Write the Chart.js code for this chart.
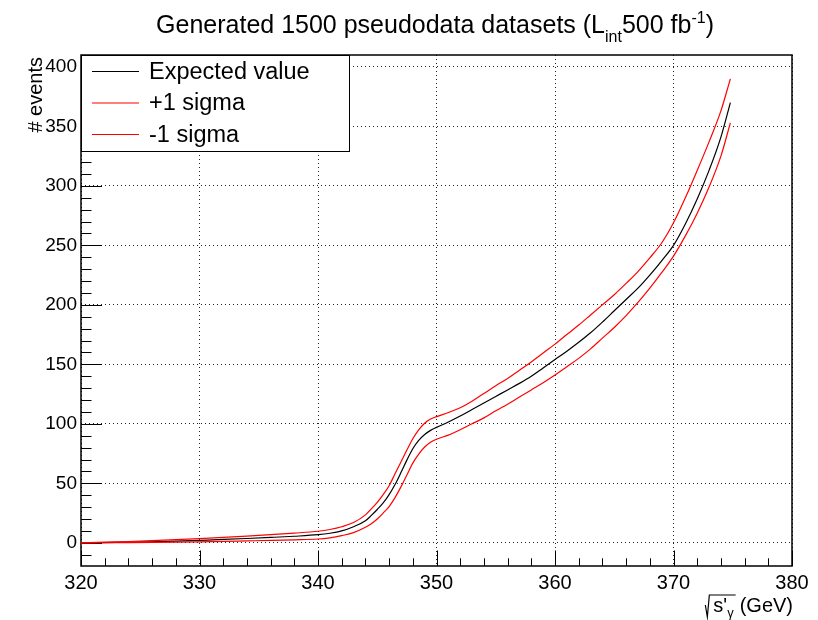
<!DOCTYPE html>
<html lang="en">
<head>
  <meta charset="UTF-8">
  <title>Generated 1500 pseudodata datasets</title>
  <script src="https://cdn.jsdelivr.net/npm/chart.js"></script>
  <style>
    body {
      margin: 0;
      background: #fff;
    }
    #wrap {
      width: 818px;
      height: 620px;
      position: relative;
    }
  </style>
</head>
<body>
  <div id="wrap"><canvas id="chart"></canvas></div>

  <script>
    // sqrt(s'_gamma) in GeV
    const energies = [320, 322, 324, 326, 328, 330, 332, 334, 336, 338, 340,
      341, 342, 343, 344, 344.5, 345, 345.5, 346, 346.5, 347, 347.5, 348, 348.5, 349, 349.5,
      350, 351, 352, 353, 354, 355, 356, 357, 358, 359, 360,
      361, 362, 363, 364, 365, 366, 367, 368, 369, 370, 371, 372, 373, 374, 374.8];

    const expected = [0, 0.2, 0.5, 0.9, 1.4, 2.1, 2.8, 3.6, 4.5, 5.5, 6.8,
      8, 10, 13.5, 18.5, 23, 28, 33.5, 40.5, 49, 59, 69.5, 79, 86, 91, 94.5,
      97, 101.5, 106.5, 112, 117.5, 123, 128.5, 134, 140, 147, 154,
      161, 168.5, 176.5, 185.5, 195, 204.5, 214, 225, 237, 250, 268, 289, 313, 341, 370];

    const plusSigma = [0, 0.5, 1.1, 1.8, 2.6, 3.5, 4.5, 5.6, 6.8, 8.1, 9.7,
      11.2, 13.5, 17, 23.5, 28.5, 34, 40.5, 48, 58, 68, 78, 87.5, 95, 100.5, 104,
      106, 109.5, 113.5, 119, 125.5, 132, 138, 145, 152, 159.5, 167,
      175, 183, 191.5, 200, 208.5, 218, 228, 239.5, 252, 269, 290, 313, 337, 363, 390];

    const minusSigma = [0, 0.05, 0.15, 0.3, 0.55, 0.85, 1.2, 1.6, 2, 2.5, 3.2,
      4.2, 6, 8.5, 13, 16, 20, 25, 30.5, 38, 47, 57, 67, 74.5, 80.5, 84.5,
      87, 90.5, 95, 100, 105, 111, 116.5, 122.5, 128.5, 134.5, 141,
      148, 155, 163, 172, 181, 191, 202, 214, 227, 241, 258, 277, 299, 325, 353];

    const seriesLabels = ['Expected value', '+1 sigma', '-1 sigma'];
    const seriesColors = ['#000000', '#ff0000', '#ff0000'];

    const xTicks = [320, 330, 340, 350, 360, 370, 380];
    const yTicks = [0, 50, 100, 150, 200, 250, 300, 350, 400];

    const FONT = '"Liberation Sans", Arial, Helvetica, sans-serif';

    function toPoints(ys) {
      return energies.map((x, i) => ({ x: x, y: ys[i] }));
    }

    // ROOT style frame with inward ticks
    const framePlugin = {
      id: 'frame',
      beforeDatasetsDraw(chart) {
        const { ctx, chartArea: a, scales } = chart;
        ctx.save();
        ctx.strokeStyle = '#000';
        ctx.lineWidth = 1;
        ctx.beginPath();
        // x ticks, every 2 GeV, major every 10
        for (let v = 320; v <= 380; v += 2) {
          const px = Math.round(scales.x.getPixelForValue(v)) + 0.5;
          const len = v % 10 === 0 ? 15.5 : 7.7;
          ctx.moveTo(px, a.bottom);
          ctx.lineTo(px, a.bottom - len);
        }
        // y ticks, every 10, major every 50
        for (let v = -10; v <= 410; v += 10) {
          const py = Math.round(scales.y.getPixelForValue(v)) + 0.5;
          if (py < a.top || py > a.bottom) continue;
          const len = v % 50 === 0 ? 21 : 10.5;
          ctx.moveTo(a.left, py);
          ctx.lineTo(a.left + len, py);
        }
        ctx.stroke();
        ctx.lineWidth = 1.5;
        ctx.strokeRect(a.left, a.top, a.right - a.left, a.bottom - a.top);
        ctx.restore();
      }
    };

    // title, axis titles and legend box
    const textPlugin = {
      id: 'texts',
      afterDraw(chart) {
        const { ctx, chartArea: a } = chart;
        ctx.save();
        ctx.fillStyle = '#000';
        ctx.textBaseline = 'alphabetic';
        ctx.textAlign = 'left';

        // title with sub/superscript
        const big = '25px ' + FONT, small = '16px ' + FONT;
        const parts = [
          ['Generated 1500 pseudodata datasets (L', big, 0],
          ['int', small, 9],
          ['500 fb', big, 0],
          ['-1', small, -10],
          [')', big, 0]
        ];
        let total = 0;
        parts.forEach(p => { ctx.font = p[1]; total += ctx.measureText(p[0]).width; });
        let tx = 435 - total / 2;
        parts.forEach(p => {
          ctx.font = p[1];
          ctx.fillText(p[0], tx, 33 + p[2]);
          tx += ctx.measureText(p[0]).width;
        });

        // x axis title: sqrt(s'_gamma) (GeV)
        const xf = '20px ' + FONT, xs = '13px ' + FONT;
        const base = 612;
        ctx.font = xf;
        const gev = '(GeV)';
        let rx = a.right + 1 - ctx.measureText(gev).width;
        ctx.fillText(gev, rx, base);
        ctx.font = xs;
        const gw = ctx.measureText('\u03b3').width;
        rx -= gw + 6;
        ctx.fillText('\u03b3', rx, base + 5);
        ctx.font = xf;
        const sw = ctx.measureText("s'").width;
        rx -= sw;
        ctx.fillText("s'", rx, base);
        ctx.beginPath();
        ctx.lineWidth = 1.2;
        ctx.strokeStyle = '#000';
        ctx.moveTo(rx - 8, base - 7);
        ctx.lineTo(rx - 6, base + 5);
        ctx.lineTo(rx - 4, base - 17);
        ctx.lineTo(rx + sw + gw + 2, base - 17);
        ctx.stroke();

        // y axis title
        ctx.save();
        ctx.translate(42, 57);
        ctx.rotate(-Math.PI / 2);
        ctx.font = '20px ' + FONT;
        ctx.textAlign = 'right';
        ctx.fillText('# events', 0, 0);
        ctx.restore();

        // legend
        const lx = a.left, ly = a.top, lw = 268, lh = 96;
        ctx.fillStyle = '#fff';
        ctx.fillRect(lx, ly, lw, lh);
        ctx.strokeStyle = '#000';
        ctx.lineWidth = 1;
        ctx.strokeRect(lx + 0.5, ly + 0.5, lw, lh);
        ctx.font = '23.5px ' + FONT;
        ctx.textBaseline = 'middle';
        chart.data.datasets.forEach((ds, i) => {
          const y = ly + 16.5 + i * 31.5;
          ctx.strokeStyle = ds.borderColor;
          ctx.lineWidth = 1.2;
          ctx.beginPath();
          ctx.moveTo(lx + 11, y);
          ctx.lineTo(lx + 58, y);
          ctx.stroke();
          ctx.fillStyle = '#000';
          ctx.fillText(ds.label, lx + 68, y + 1);
        });
        ctx.restore();
      }
    };

    const datasets = [expected, plusSigma, minusSigma].map((ys, i) => ({
      label: seriesLabels[i],
      data: toPoints(ys),
      borderColor: seriesColors[i],
      backgroundColor: seriesColors[i],
      borderWidth: 1.2,
      pointRadius: 0,
      fill: false,
      cubicInterpolationMode: 'monotone',
      order: i === 0 ? 3 : 3 - i
    }));

    new Chart(document.getElementById('chart'), {
      type: 'line',
      data: { datasets: datasets },
      options: {
        responsive: true,
        maintainAspectRatio: false,
        animation: false,
        layout: { padding: { left: 0, top: 55, right: 26, bottom: 14 } },
        plugins: {
          legend: { display: false },
          title: { display: false },
          tooltip: { enabled: false }
        },
        scales: {
          x: {
            type: 'linear',
            min: 320,
            max: 380,
            afterBuildTicks: s => { s.ticks = xTicks.map(v => ({ value: v })); },
            afterFit: s => { s.height = 40; },
            grid: { color: '#222', lineWidth: 1, drawTicks: false },
            border: { display: false, dash: [1, 3] },
            ticks: {
              font: { family: FONT, size: 20 },
              color: '#000',
              padding: 5,
              maxRotation: 0
            }
          },
          y: {
            type: 'linear',
            min: -19.5,
            max: 410,
            afterBuildTicks: s => { s.ticks = yTicks.map(v => ({ value: v })); },
            afterFit: s => { s.width = 81; },
            grid: { color: '#222', lineWidth: 1, drawTicks: false },
            border: { display: false, dash: [1, 3] },
            ticks: {
              font: { family: FONT, size: 19 },
              color: '#000',
              padding: 4
            }
          }
        }
      },
      plugins: [framePlugin, textPlugin]
    });
  </script>
</body>
</html>
